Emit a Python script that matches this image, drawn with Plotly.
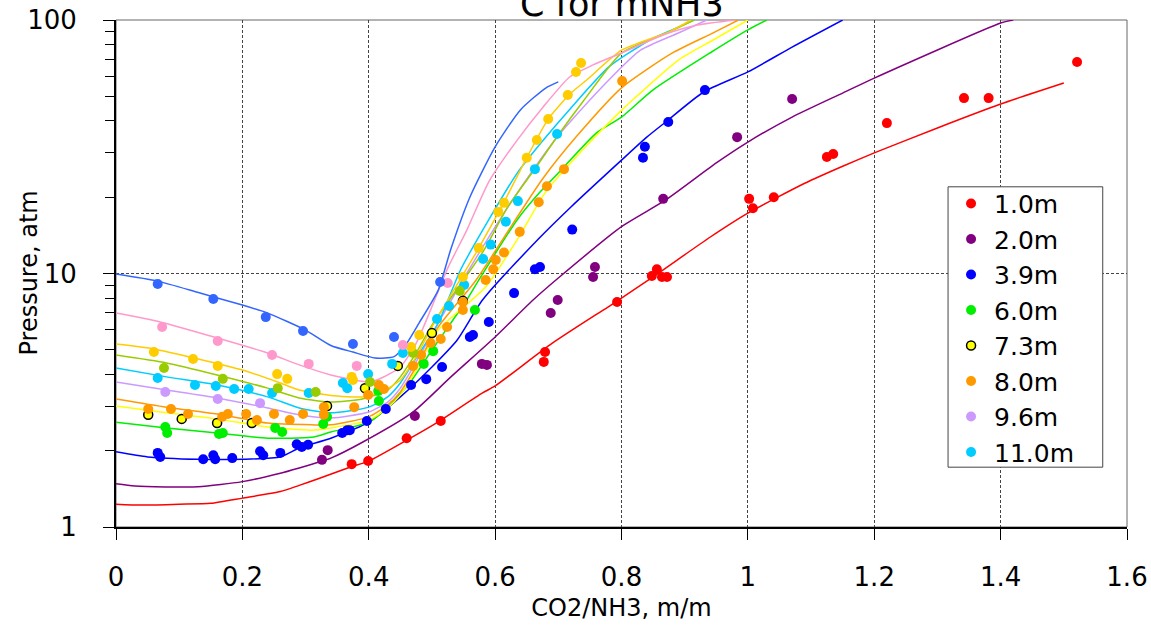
import plotly.graph_objects as go

# ---------------- data ----------------
# 1.0m (red)
red_cx = [0, 0.04, 0.1, 0.15, 0.2, 0.26, 0.29, 0.32, 0.37, 0.4, 0.46, 0.51, 0.58, 0.6, 0.69, 0.79, 0.85, 0.94, 1.0, 1.09, 1.15, 1.2, 1.3, 1.4, 1.5]
red_cy = [1.23, 1.22, 1.23, 1.24, 1.30, 1.38, 1.46, 1.55, 1.72, 1.82, 2.20, 2.60, 3.38, 3.60, 5.3, 7.7, 9.7, 13.9, 17.3, 22.7, 26.5, 29.9, 37.5, 46.6, 56.4]
red_px = [0.373, 0.399, 0.460, 0.514, 0.677, 0.679, 0.793, 0.848, 0.856, 0.864, 0.872, 1.002, 1.008, 1.041, 1.125, 1.135, 1.220, 1.342, 1.381, 1.521]
red_py = [1.77, 1.82, 2.24, 2.62, 4.48, 4.90, 7.72, 9.78, 10.4, 9.69, 9.69, 19.7, 18.1, 20.0, 28.8, 29.6, 39.2, 49.2, 49.2, 68.3]

# 2.0m (purple)
pur_cx = [0, 0.03, 0.13, 0.2, 0.26, 0.29, 0.32, 0.34, 0.39, 0.47, 0.53, 0.6, 0.66, 0.7, 0.8, 0.87, 0.95, 1.0, 1.07, 1.15, 1.2, 1.4, 1.42]
pur_cy = [1.48, 1.45, 1.44, 1.51, 1.63, 1.71, 1.80, 1.87, 2.16, 2.84, 3.91, 5.62, 7.86, 9.6, 15.3, 19.5, 27.3, 33.0, 41.4, 51.5, 59.0, 97.3, 100]
pur_px = [0.326, 0.335, 0.473, 0.579, 0.587, 0.688, 0.699, 0.755, 0.758, 0.866, 0.983, 1.070]
pur_py = [1.84, 2.01, 2.74, 4.40, 4.36, 6.98, 7.86, 9.69, 10.6, 19.7, 34.5, 48.8]

# 3.9m (blue)
blu_cx = [0, 0.05, 0.13, 0.2, 0.26, 0.29, 0.34, 0.4, 0.45, 0.5, 0.54, 0.58, 0.67, 0.72, 0.8, 0.84, 0.87, 0.93, 1.0, 1.07, 1.15]
blu_cy = [1.98, 1.89, 1.85, 1.85, 1.89, 2.05, 2.24, 2.59, 3.26, 4.28, 5.47, 7.86, 13.8, 18.3, 28.0, 34.5, 39.6, 52.0, 62.4, 78.2, 100]
blu_px = [0.066, 0.070, 0.138, 0.154, 0.157, 0.184, 0.228, 0.233, 0.260, 0.286, 0.294, 0.304, 0.358, 0.366, 0.370, 0.397, 0.427, 0.467, 0.491, 0.516, 0.560, 0.565, 0.590, 0.630, 0.663, 0.671, 0.722, 0.834, 0.837, 0.874, 0.932]
blu_py = [1.96, 1.89, 1.85, 1.92, 1.85, 1.87, 1.99, 1.92, 1.96, 2.12, 2.07, 2.11, 2.35, 2.41, 2.41, 2.62, 2.92, 3.63, 3.83, 4.28, 5.62, 5.72, 6.44, 8.37, 10.4, 10.6, 14.9, 28.6, 31.6, 39.6, 52.9]

# 6.0m (green)
grn_cx = [0, 0.08, 0.16, 0.24, 0.31, 0.34, 0.40, 0.43, 0.465, 0.50, 0.53, 0.555, 0.575, 0.635, 0.67, 0.70, 0.76, 0.80, 0.85, 0.94, 1.0, 1.03]
grn_cy = [2.59, 2.46, 2.35, 2.24, 2.26, 2.37, 2.59, 2.97, 3.70, 4.99, 6.38, 7.86, 9.5, 16.3, 20.8, 24.9, 35.8, 41.4, 53, 74.1, 91.4, 100]
grn_px = [0.078, 0.081, 0.163, 0.169, 0.252, 0.263, 0.328, 0.334, 0.415, 0.416, 0.487, 0.502, 0.568]
grn_py = [2.48, 2.35, 2.33, 2.35, 2.46, 2.37, 2.55, 2.72, 3.44, 3.14, 4.40, 4.94, 7.18]

# 7.3m (yellow)
yel_cx = [0, 0.08, 0.16, 0.24, 0.31, 0.34, 0.40, 0.43, 0.45, 0.475, 0.51, 0.585, 0.635, 0.68, 0.745, 0.80, 0.82, 0.89, 0.945, 1.0]
yel_cy = [3.00, 2.82, 2.67, 2.48, 2.41, 2.46, 2.64, 2.95, 3.32, 4.16, 5.98, 8.85, 13.6, 21.0, 32.0, 44.0, 49.0, 69.5, 83.4, 100]
yel_px = [0.051, 0.104, 0.160, 0.215, 0.334, 0.394, 0.446, 0.500, 0.549]
yel_py = [2.77, 2.67, 2.57, 2.57, 3.00, 3.53, 4.32, 5.82, 7.80]

# 8.0m (orange)
org_cx = [0, 0.08, 0.16, 0.24, 0.31, 0.34, 0.40, 0.43, 0.45, 0.475, 0.51, 0.57, 0.625, 0.675, 0.73, 0.80, 0.88, 0.945, 0.985]
org_cy = [3.20, 2.97, 2.79, 2.57, 2.53, 2.53, 2.72, 3.03, 3.41, 4.28, 6.15, 9.43, 15.3, 23.6, 35.0, 54.0, 74.0, 88.9, 100]
org_px = [0.051, 0.087, 0.114, 0.168, 0.177, 0.206, 0.223, 0.250, 0.275, 0.296, 0.329, 0.329, 0.377, 0.399, 0.416, 0.424, 0.470, 0.483, 0.498, 0.514, 0.524, 0.549, 0.549, 0.585, 0.597, 0.601, 0.614, 0.639, 0.669, 0.682, 0.709, 0.801]
org_py = [2.92, 2.92, 2.79, 2.72, 2.79, 2.79, 2.64, 2.79, 2.64, 2.79, 2.97, 2.77, 2.97, 3.32, 3.63, 3.50, 4.32, 4.77, 5.32, 5.52, 6.15, 7.72, 7.18, 9.43, 10.4, 11.3, 12.1, 14.6, 19.1, 22.1, 25.8, 57.4]

# 9.6m (lavender)
lav_cx = [0, 0.08, 0.16, 0.24, 0.29, 0.34, 0.40, 0.43, 0.45, 0.475, 0.51, 0.555, 0.61, 0.66, 0.70, 0.72, 0.78, 0.83, 0.89, 0.935]
lav_cy = [3.73, 3.47, 3.23, 2.95, 2.77, 2.69, 2.84, 3.11, 3.53, 4.48, 6.38, 10.0, 16.7, 25.6, 35.0, 40.0, 58.0, 76.0, 88.9, 100]
lav_px = [0.078, 0.161, 0.228]
lav_py = [3.41, 3.20, 3.08]

# 11.0m (cyan)
cya_cx = [0, 0.08, 0.16, 0.24, 0.29, 0.34, 0.40, 0.43, 0.45, 0.475, 0.51, 0.545, 0.59, 0.635, 0.675, 0.72, 0.78, 0.845, 0.88, 0.915]
cya_cy = [4.24, 3.91, 3.63, 3.26, 2.95, 2.82, 2.97, 3.26, 3.70, 4.64, 6.38, 10.3, 16.3, 24.9, 33.3, 45.0, 65.3, 83.4, 91.4, 100]
cya_px = [0.066, 0.125, 0.158, 0.187, 0.210, 0.247, 0.305, 0.359, 0.366, 0.399, 0.437, 0.454, 0.508, 0.527, 0.551, 0.581, 0.593, 0.617, 0.636, 0.663, 0.698]
cya_py = [3.87, 3.63, 3.60, 3.50, 3.50, 3.38, 3.38, 3.70, 3.53, 4.01, 4.40, 4.86, 6.61, 7.44, 9.01, 11.4, 13.0, 16.0, 19.3, 25.8, 35.5]

# unlabelled series (olive, gold, pink, cornflower)
olv_cx = [0, 0.08, 0.16, 0.24, 0.29, 0.34, 0.39, 0.43, 0.45, 0.475, 0.50, 0.58, 0.62, 0.665, 0.70, 0.74, 0.80, 0.875, 0.915]
olv_cy = [4.77, 4.44, 3.98, 3.53, 3.23, 3.11, 3.20, 3.47, 3.91, 4.86, 6.26, 12.1, 18.3, 26.3, 35.2, 48.0, 74.0, 89.7, 100]
olv_px = [0.076, 0.169, 0.256, 0.316, 0.402, 0.470, 0.544]
olv_py = [4.24, 3.84, 3.53, 3.41, 3.73, 4.86, 8.53]

gld_cx = [0, 0.06, 0.13, 0.2, 0.26, 0.29, 0.34, 0.39, 0.42, 0.45, 0.475, 0.50, 0.57, 0.61, 0.65, 0.685, 0.72, 0.745, 0.80, 0.875, 0.91]
gld_cy = [5.27, 5.04, 4.60, 4.16, 3.70, 3.47, 3.30, 3.26, 3.41, 3.80, 4.69, 6.15, 12.1, 18.3, 28.6, 41.0, 51.5, 58.0, 76.0, 89.7, 100]
gld_px = [0.060, 0.122, 0.161, 0.255, 0.271, 0.373, 0.375, 0.467, 0.480, 0.549, 0.574, 0.605, 0.614, 0.650, 0.666, 0.684, 0.715, 0.728, 0.736]
gld_py = [4.90, 4.60, 4.32, 4.01, 3.84, 3.91, 3.80, 5.13, 5.72, 9.69, 12.6, 17.5, 19.0, 28.6, 33.6, 40.7, 50.6, 62.4, 67.7]

pnk_cx = [0, 0.07, 0.16, 0.24, 0.29, 0.34, 0.40, 0.42, 0.45, 0.475, 0.50, 0.525, 0.555, 0.59, 0.635, 0.676, 0.718, 0.755, 0.80, 0.866, 0.92, 0.98]
pnk_cy = [6.98, 6.44, 5.57, 4.86, 4.36, 3.98, 3.73, 3.87, 4.28, 5.3, 7.4, 10.5, 14.8, 23.0, 33.6, 45.4, 59.6, 66.5, 74.1, 87.3, 95.5, 100]
pnk_px = [0.073, 0.161, 0.247, 0.305, 0.381, 0.454, 0.525]
pnk_py = [6.15, 5.42, 4.77, 4.40, 4.32, 5.22, 9.18]

cfb_cx = [0, 0.066, 0.133, 0.2, 0.24, 0.3, 0.34, 0.375, 0.41, 0.44, 0.46, 0.48, 0.51, 0.53, 0.56, 0.6, 0.64, 0.68, 0.70]
cfb_cy = [9.95, 9.33, 8.37, 7.51, 6.98, 5.98, 5.2, 4.9, 4.64, 4.7, 5.3, 6.4, 8.6, 12.5, 20.0, 31.6, 44.2, 53.9, 57.0]
cfb_px = [0.066, 0.154, 0.237, 0.296, 0.375, 0.440, 0.513]
cfb_py = [9.09, 7.93, 6.73, 5.93, 5.27, 5.62, 9.26]

x_tick_vals = [0, 0.2, 0.4, 0.6, 0.8, 1.0, 1.2, 1.4, 1.6]
x_tick_text = ["0", "0.2", "0.4", "0.6", "0.8", "1", "1.2", "1.4", "1.6"]

series = [
    # name, color, curve x, curve y, pts x, pts y, in legend, outlined
    ("1.0m", "#FF0000", red_cx, red_cy, red_px, red_py, True, False),
    ("2.0m", "#800080", pur_cx, pur_cy, pur_px, pur_py, True, False),
    ("3.9m", "#0000FF", blu_cx, blu_cy, blu_px, blu_py, True, False),
    ("6.0m", "#00EE00", grn_cx, grn_cy, grn_px, grn_py, True, False),
    ("7.3m", "#FFFF00", yel_cx, yel_cy, yel_px, yel_py, True, True),
    ("8.0m", "#FF9900", org_cx, org_cy, org_px, org_py, True, False),
    ("9.6m", "#CC99FF", lav_cx, lav_cy, lav_px, lav_py, True, False),
    ("11.0m", "#00CCFF", cya_cx, cya_cy, cya_px, cya_py, True, False),
    ("olive", "#99CC00", olv_cx, olv_cy, olv_px, olv_py, False, False),
    ("gold", "#FFCC00", gld_cx, gld_cy, gld_px, gld_py, False, False),
    ("pink", "#FF99CC", pnk_cx, pnk_cy, pnk_px, pnk_py, False, False),
    ("cornflower", "#3366FF", cfb_cx, cfb_cy, cfb_px, cfb_py, False, False),
]

FONT = "DejaVu Sans"
fig = go.Figure()

for name, col, cx, cy, px, py, leg, outl in series:
    fig.add_trace(go.Scatter(x=cx, y=cy, mode="lines",
                             line=dict(color=col, width=1.5, shape="spline", smoothing=0.6),
                             showlegend=False, hoverinfo="skip"))

for name, col, cx, cy, px, py, leg, outl in series:
    mk = dict(color=col, size=10)
    if outl:
        mk = dict(color=col, size=9, line=dict(color="black", width=1.5))
    fig.add_trace(go.Scatter(x=px, y=py, mode="markers", marker=mk, name=name,
                             showlegend=leg))

grid_col = "#444444"
fig.update_xaxes(range=[0, 1.6], tickmode="array", tickvals=x_tick_vals, ticktext=x_tick_text,
                 ticks="outside", ticklen=11, tickcolor="black", tickwidth=1,
                 showline=True, linecolor="black", linewidth=2, automargin=False,
                 showgrid=True, gridcolor=grid_col, gridwidth=1, griddash="3px,2px",
                 zeroline=False, tickfont=dict(size=26, family=FONT, color="black"),
                 ticklabelstandoff=15, ticklabeloverflow="allow",
                 title=dict(text="CO2/NH3, m/m", font=dict(size=24, family=FONT, color="black"), standoff=8))
fig.update_yaxes(type="log", range=[0, 2], dtick=1,
                 ticks="outside", ticklen=11, tickcolor="black", tickwidth=1,
                 minor=dict(ticks="outside", ticklen=9, tickcolor="black", dtick="D1", showgrid=False),
                 showline=True, linecolor="black", linewidth=2, automargin=False,
                 showgrid=True, gridcolor=grid_col, gridwidth=1, griddash="3px,2px",
                 zeroline=False, tickfont=dict(size=26, family=FONT, color="black"),
                 ticklabelstandoff=21, ticklabeloverflow="allow")

# plot frame
fig.add_shape(type="rect", xref="paper", yref="paper", x0=0, x1=1, y0=0, y1=1,
              line=dict(color="#666666", width=1), layer="below")
# legend box
fig.add_shape(type="rect", xref="paper", yref="paper", x0=0.823, x1=0.976, y0=0.118, y1=0.671,
              line=dict(color="#444444", width=1), fillcolor="white", layer="above")

fig.add_annotation(text="C for mNH3", xref="paper", yref="paper", x=0.5, y=1.0,
                   xanchor="center", yanchor="bottom", showarrow=False, yshift=-6,
                   font=dict(size=35, family=FONT, color="black"))
fig.add_annotation(text="Pressure, atm", xref="paper", yref="paper", x=0, y=0.5,
                   xanchor="center", yanchor="middle", textangle=-90, showarrow=False,
                   xshift=-88, font=dict(size=24, family=FONT, color="black"))

fig.update_layout(
    width=1151, height=630,
    margin=dict(l=116, r=24, t=20, b=103, autoexpand=False),
    plot_bgcolor="white", paper_bgcolor="white",
    font=dict(family=FONT, color="black"),
    legend=dict(x=0.823, y=0.683, xanchor="left", yanchor="top",
                bgcolor="rgba(0,0,0,0)", borderwidth=0,
                font=dict(size=25, family=FONT, color="black"),
                itemwidth=36, tracegroupgap=0),
)

fig.write_html("out.html", config={"displayModeBar": False},
               post_script="document.body.style.margin='0px';")
